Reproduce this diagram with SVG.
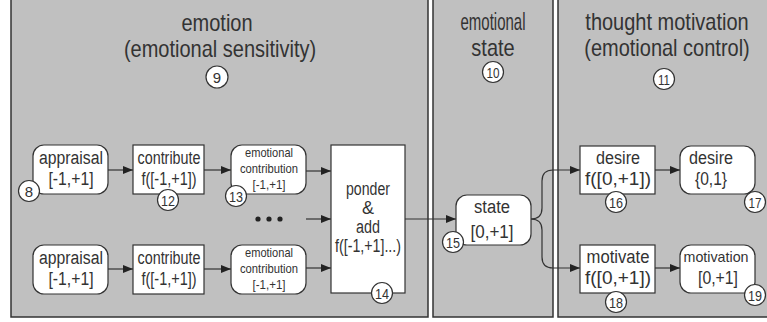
<svg xmlns="http://www.w3.org/2000/svg" width="767" height="322" viewBox="0 0 767 322">
<defs>
<marker id="arr" viewBox="0 0 10 8" refX="10" refY="4" markerWidth="10" markerHeight="8" markerUnits="userSpaceOnUse" orient="auto">
<path d="M0,0 L10,4 L0,8 Z" fill="#222"/>
</marker>
<style>
.panel{fill:#c0c0c0;stroke:#333;stroke-width:1.5}
.box{fill:#fff;stroke:#333;stroke-width:1.2}
.num{fill:#fff;stroke:#333;stroke-width:1.2}
text{font-family:"Liberation Sans",Arial,sans-serif;fill:#333;text-anchor:middle}
.t{font-size:20px}
.b{font-size:18px}
.s{font-size:13px}
.n{font-size:15px}
.c{fill:none;stroke:#333;stroke-width:1.2;marker-end:url(#arr)}
</style>
</defs>

<g id="panel-emotion">
<rect class="panel" x="11" y="-2" width="417" height="319"/>
<text class="t" transform="translate(217,31) scale(1,1.2)">emotion</text>
<text class="t" transform="translate(220,57) scale(1,1.2)">(emotional sensitivity)</text>
<circle class="num" cx="217" cy="77" r="11"/>
<text class="n" x="217" y="82.5">9</text>
</g>

<g id="panel-state">
<rect class="panel" x="433" y="-2" width="120" height="319"/>
<text class="t" transform="translate(493,30) scale(0.75,1.2)">emotional</text>
<text class="t" transform="translate(493,56) scale(1,1.2)">state</text>
<circle class="num" cx="493" cy="72" r="10.5"/>
<text class="n" x="493" y="77.5" textLength="13" lengthAdjust="spacingAndGlyphs">10</text>
</g>

<g id="panel-motivation">
<rect class="panel" x="558" y="-2" width="210" height="319"/>
<text class="t" transform="translate(667,30) scale(1,1.2)">thought motivation</text>
<text class="t" transform="translate(667,56) scale(1,1.2)">(emotional control)</text>
<circle class="num" cx="664" cy="79" r="10.5"/>
<text class="n" x="664" y="84.5" textLength="12" lengthAdjust="spacingAndGlyphs">11</text>
</g>

<g id="connectors">
<line class="c" x1="108" y1="170" x2="133" y2="170"/>
<line class="c" x1="204" y1="170" x2="231" y2="170"/>
<line class="c" x1="306" y1="171" x2="331" y2="171"/>
<line class="c" x1="306" y1="219" x2="331" y2="219"/>
<line class="c" x1="306" y1="268" x2="331" y2="268"/>
<line class="c" x1="108" y1="269" x2="133" y2="269"/>
<line class="c" x1="204" y1="269" x2="231" y2="269"/>
<line class="c" x1="405" y1="219" x2="456" y2="219"/>
<path class="c" d="M531,219 Q542,219 542,208 L542,181 Q542,170 553,170 L580,170"/>
<path class="c" d="M531,219 Q542,219 542,230 L542,257 Q542,268 553,268 L580,268"/>
<line class="c" x1="655" y1="170" x2="680" y2="170"/>
<line class="c" x1="655" y1="268" x2="680" y2="268"/>
</g>

<g id="dots">
<circle cx="258" cy="219" r="2.6" fill="#222"/>
<circle cx="269" cy="219" r="2.6" fill="#222"/>
<circle cx="280" cy="219" r="2.6" fill="#222"/>
</g>

<g id="appraisal1">
<rect class="box" x="33" y="145" width="75" height="49" rx="11"/>
<text class="b" x="71" y="164" textLength="64" lengthAdjust="spacingAndGlyphs">appraisal</text>
<text class="b" x="71" y="185" textLength="45" lengthAdjust="spacingAndGlyphs">[-1,+1]</text>
<circle class="num" cx="29" cy="191" r="10.5"/>
<text class="n" x="29" y="196.5">8</text>
</g>

<g id="contribute1">
<rect class="box" x="133" y="145" width="71" height="49"/>
<text class="b" x="169" y="164" textLength="63" lengthAdjust="spacingAndGlyphs">contribute</text>
<text class="b" x="169" y="185" textLength="55" lengthAdjust="spacingAndGlyphs">f([-1,+1])</text>
<circle class="num" cx="168" cy="200" r="10.5"/>
<text class="n" x="168" y="205.5" textLength="14" lengthAdjust="spacingAndGlyphs">12</text>
</g>

<g id="contribution1">
<rect class="box" x="231" y="145" width="75" height="49" rx="11"/>
<text class="s" x="269" y="157" textLength="48" lengthAdjust="spacingAndGlyphs">emotional</text>
<text class="s" x="269" y="173" textLength="58" lengthAdjust="spacingAndGlyphs">contribution</text>
<text class="s" x="269" y="189" textLength="33" lengthAdjust="spacingAndGlyphs">[-1,+1]</text>
<circle class="num" cx="236" cy="196" r="10.5"/>
<text class="n" x="236" y="201.5" textLength="14" lengthAdjust="spacingAndGlyphs">13</text>
</g>

<g id="appraisal2">
<rect class="box" x="33" y="245" width="75" height="49" rx="11"/>
<text class="b" x="71" y="264" textLength="64" lengthAdjust="spacingAndGlyphs">appraisal</text>
<text class="b" x="71" y="285" textLength="45" lengthAdjust="spacingAndGlyphs">[-1,+1]</text>
</g>

<g id="contribute2">
<rect class="box" x="133" y="245" width="71" height="49"/>
<text class="b" x="169" y="264" textLength="63" lengthAdjust="spacingAndGlyphs">contribute</text>
<text class="b" x="169" y="285" textLength="55" lengthAdjust="spacingAndGlyphs">f([-1,+1])</text>
</g>

<g id="contribution2">
<rect class="box" x="231" y="245" width="75" height="49" rx="11"/>
<text class="s" x="269" y="257" textLength="48" lengthAdjust="spacingAndGlyphs">emotional</text>
<text class="s" x="269" y="273" textLength="58" lengthAdjust="spacingAndGlyphs">contribution</text>
<text class="s" x="269" y="289" textLength="33" lengthAdjust="spacingAndGlyphs">[-1,+1]</text>
</g>

<g id="ponder">
<rect class="box" x="331" y="145" width="74" height="148"/>
<text class="b" x="368" y="195" textLength="44" lengthAdjust="spacingAndGlyphs">ponder</text>
<text class="b" x="368" y="214">&amp;</text>
<text class="b" x="368" y="233" textLength="24" lengthAdjust="spacingAndGlyphs">add</text>
<text class="b" x="368" y="252" textLength="66" lengthAdjust="spacingAndGlyphs">f([-1,+1]...)</text>
<circle class="num" cx="382" cy="293" r="10.5"/>
<text class="n" x="382" y="298.5" textLength="14" lengthAdjust="spacingAndGlyphs">14</text>
</g>

<g id="state">
<rect class="box" x="456" y="195" width="75" height="50" rx="11"/>
<text class="b" x="492" y="213" textLength="36" lengthAdjust="spacingAndGlyphs">state</text>
<text class="b" x="492" y="238" textLength="43" lengthAdjust="spacingAndGlyphs">[0,+1]</text>
<circle class="num" cx="453" cy="242" r="10.5"/>
<text class="n" x="453" y="247.5" textLength="14" lengthAdjust="spacingAndGlyphs">15</text>
</g>

<g id="desire">
<rect class="box" x="580" y="146" width="75" height="48"/>
<text class="b" x="618" y="164" textLength="44" lengthAdjust="spacingAndGlyphs">desire</text>
<text class="b" x="618" y="185" textLength="66" lengthAdjust="spacingAndGlyphs">f([0,+1])</text>
<circle class="num" cx="616" cy="202" r="10.5"/>
<text class="n" x="616" y="207.5" textLength="14" lengthAdjust="spacingAndGlyphs">16</text>
</g>

<g id="desire-out">
<rect class="box" x="680" y="146" width="75" height="48" rx="11"/>
<text class="b" x="711" y="164" textLength="44" lengthAdjust="spacingAndGlyphs">desire</text>
<text class="b" x="711" y="185" textLength="32" lengthAdjust="spacingAndGlyphs">{0,1}</text>
<circle class="num" cx="755" cy="202" r="10.5"/>
<text class="n" x="755" y="207.5" textLength="13" lengthAdjust="spacingAndGlyphs">17</text>
</g>

<g id="motivate">
<rect class="box" x="580" y="245" width="75" height="48"/>
<text class="b" x="618" y="263" textLength="63" lengthAdjust="spacingAndGlyphs">motivate</text>
<text class="b" x="618" y="284" textLength="66" lengthAdjust="spacingAndGlyphs">f([0,+1])</text>
<circle class="num" cx="616" cy="302" r="10.5"/>
<text class="n" x="616" y="307.5" textLength="14" lengthAdjust="spacingAndGlyphs">18</text>
</g>

<g id="motivation-out">
<rect class="box" x="680" y="245" width="75" height="48" rx="11"/>
<text class="n" x="716" y="262" textLength="65" lengthAdjust="spacingAndGlyphs">motivation</text>
<text class="b" x="718" y="284" textLength="40" lengthAdjust="spacingAndGlyphs">[0,+1]</text>
<circle class="num" cx="755" cy="295" r="10.5"/>
<text class="n" x="755" y="300.5" textLength="14" lengthAdjust="spacingAndGlyphs">19</text>
</g>
</svg>
